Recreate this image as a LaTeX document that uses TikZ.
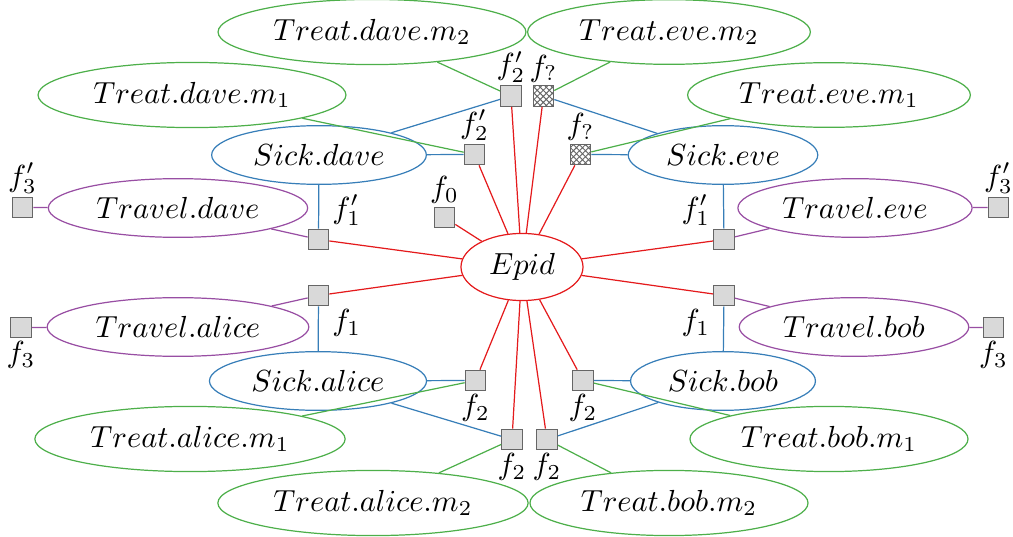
\documentclass[tikz,border=0pt]{standalone}
\usetikzlibrary{shapes.geometric,patterns.meta}
\definecolor{cred}{HTML}{E41A1C}
\definecolor{cblue}{HTML}{377EB8}
\definecolor{cgreen}{HTML}{4DAF4A}
\definecolor{cpurple}{HTML}{984EA3}
\tikzset{
  var/.style={ellipse,draw,inner sep=0.3333em},
  epid/.style={var,draw=cred},
  sick/.style={var,draw=cblue},
  treat/.style={var,draw=cgreen},
  travel/.style={var,draw=cpurple},
  fac/.style={rectangle,draw=black!60,fill=black!15,minimum size=6.7pt,inner sep=0pt},
  hfac/.style={fac,fill=white,postaction={pattern={Hatch[angle=45,distance=1.4pt,line width=0.3pt]},pattern color=black!60}},
  every label/.style={inner sep=0.8pt},
  label distance=0pt,
  redl/.style={draw=cred},
  bluel/.style={draw=cblue},
  greenl/.style={draw=cgreen},
  purpl/.style={draw=cpurple},
}
\begin{document}
\begin{tikzpicture}[x=0.328pt,y=-0.328pt]
\useasboundingbox (0,0) rectangle (1013,537);
% variables
\node[epid] (E) at (522,267) {$Epid$};
\node[sick] (SD) at (319,155) {$Sick.dave$};
\node[sick] (SE) at (723,155) {$Sick.eve$};
\node[sick] (SA) at (318,381) {$Sick.alice$};
\node[sick] (SB) at (723,381) {$Sick.bob$};
\node[travel] (TrD) at (178,208) {$Travel.dave$};
\node[travel] (TrE) at (855,208) {$Travel.eve$};
\node[travel] (TrA) at (178,327) {$Travel.alice$};
\node[travel] (TrB) at (854,327) {$Travel.bob$};
\node[treat] (TD2) at (372,32) {$Treat.dave.m_2$};
\node[treat] (TD1) at (192,95) {$Treat.dave.m_1$};
\node[treat] (TE2) at (669,32) {$Treat.eve.m_2$};
\node[treat] (TE1) at (829,95) {$Treat.eve.m_1$};
\node[treat] (TA1) at (190,439) {$Treat.alice.m_1$};
\node[treat] (TA2) at (373,503) {$Treat.alice.m_2$};
\node[treat] (TB1) at (829,439) {$Treat.bob.m_1$};
\node[treat] (TB2) at (669,503) {$Treat.bob.m_2$};
% factors
\node[fac,label={above:$f'_2$}] (f2pT) at (511,96) {};
\node[hfac,label={above:$f_?$}] (fqT) at (543.5,96) {};
\node[fac,label={above:$f'_2$}] (f2pS) at (474.5,154.5) {};
\node[hfac,label={above:$f_?$}] (fqS) at (580.5,154.5) {};
\node[fac,label={above:$f_0$}] (f0) at (444.5,217.5) {};
\node[fac,label={above right:$f'_1$}] (f1pL) at (318.5,239.5) {};
\node[fac,label={above left:$f'_1$}] (f1pR) at (724,239.5) {};
\node[fac,label={above:$f'_3$}] (f3pL) at (22.5,207.5) {};
\node[fac,label={above:$f'_3$}] (f3pR) at (998.5,207.5) {};
\node[fac,label={below right:$f_1$}] (f1L) at (318.5,295.5) {};
\node[fac,label={below left:$f_1$}] (f1R) at (724,295.5) {};
\node[fac,label={below:$f_3$}] (f3L) at (21,327.5) {};
\node[fac,label={below:$f_3$}] (f3R) at (993.5,327.5) {};
\node[fac,label={below:$f_2$}] (f2mL) at (475.5,380.5) {};
\node[fac,label={below:$f_2$}] (f2mR) at (583,380.5) {};
\node[fac,label={below:$f_2$}] (f2bL) at (512,439.5) {};
\node[fac,label={below:$f_2$}] (f2bR) at (547,439.5) {};
% red edges
\foreach \f in {f2pT,fqT,f2pS,fqS,f0,f1pL,f1pR,f1L,f1R,f2mL,f2mR,f2bL,f2bR}
  \draw[redl] (E) -- (\f);
% blue edges
\draw[bluel] (SD) -- (f2pT);
\draw[bluel] (SD) -- (f2pS);
\draw[bluel] (SD) -- (f1pL);
\draw[bluel] (SE) -- (fqT);
\draw[bluel] (SE) -- (fqS);
\draw[bluel] (SE) -- (f1pR);
\draw[bluel] (SA) -- (f2mL);
\draw[bluel] (SA) -- (f2bL);
\draw[bluel] (SA) -- (f1L);
\draw[bluel] (SB) -- (f2mR);
\draw[bluel] (SB) -- (f2bR);
\draw[bluel] (SB) -- (f1R);
% green edges
\draw[greenl] (TD2) -- (f2pT);
\draw[greenl] (TD1) -- (f2pS);
\draw[greenl] (TE2) -- (fqT);
\draw[greenl] (TE1) -- (fqS);
\draw[greenl] (TA1) -- (f2mL);
\draw[greenl] (TA2) -- (f2bL);
\draw[greenl] (TB1) -- (f2mR);
\draw[greenl] (TB2) -- (f2bR);
% purple edges
\draw[purpl] (TrD) -- (f1pL);
\draw[purpl] (TrD) -- (f3pL);
\draw[purpl] (TrE) -- (f1pR);
\draw[purpl] (TrE) -- (f3pR);
\draw[purpl] (TrA) -- (f1L);
\draw[purpl] (TrA) -- (f3L);
\draw[purpl] (TrB) -- (f1R);
\draw[purpl] (TrB) -- (f3R);
\end{tikzpicture}
\end{document}
